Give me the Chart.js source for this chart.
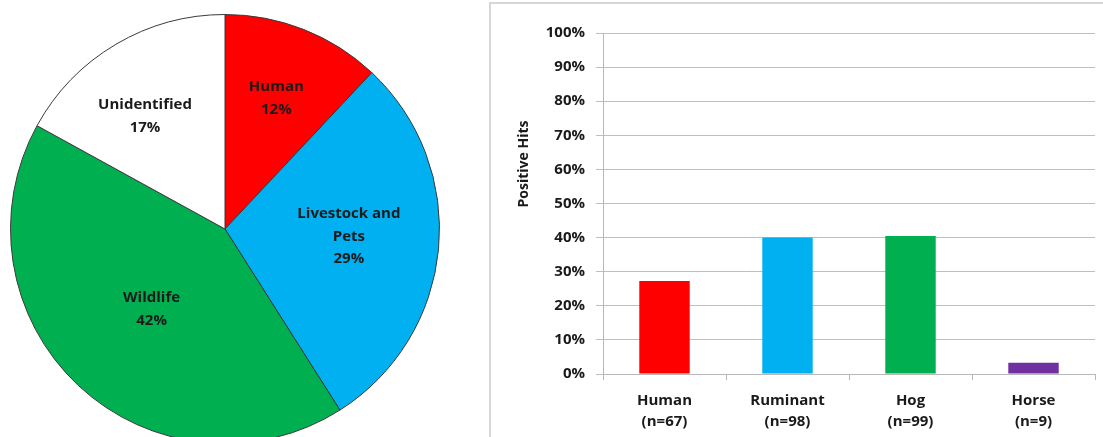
<!DOCTYPE html>
<html>
<head>
<meta charset="utf-8">
<title>Sources and positive hits</title>
<script src="https://cdn.jsdelivr.net/npm/chart.js@4/dist/chart.umd.min.js"></script>
<style>
  html, body { margin: 0; padding: 0; background: #ffffff; overflow: hidden; }
  body { width: 1103px; height: 437px; position: relative; }
  #pieWrap { position: absolute; left: 0; top: 0; width: 450px; height: 458px; }
  #barBox { position: absolute; left: 489px; top: 2px; width: 700px; height: 500px;
            border: 2px solid #d6d6d6; box-sizing: border-box; }
  #barWrap { position: absolute; left: 490px; top: 0; width: 613px; height: 437px; }
</style>
</head>
<body>
<div id="pieWrap"><canvas id="pie"></canvas></div>
<div id="barBox"></div>
<div id="barWrap"><canvas id="bar"></canvas></div>
<script>
// Share of sources (percent)
const sourceNames = ['Human', ['Livestock and', 'Pets'], 'Wildlife', 'Unidentified'];
const sourceShares = [12, 29, 42, 17];
const sourceColors = ['#ff0000', '#00b0f0', '#00b050', '#ffffff'];

// Positive hits by host (percent)
const hostNames = [['Human', '(n=67)'], ['Ruminant', '(n=98)'], ['Hog', '(n=99)'], ['Horse', '(n=9)']];
const hostHits = [27.3, 40.0, 40.5, 3.3];
const hostColors = ['#ff0000', '#00b0f0', '#00b050', '#7030a0'];

// Axis ticks
const tickMin = 0;
const tickMax = 100;
const tickStep = 10;

const FONT = '"Open Sans", "Liberation Sans", sans-serif';
const INK = '#1a1a1a';

// Labels inside pie slices, placed along each slice's middle angle
const sliceLabels = {
  id: 'sliceLabels',
  afterDatasetsDraw(chart, args, opts) {
    const ctx = chart.ctx;
    const meta = chart.getDatasetMeta(0);
    const values = chart.data.datasets[0].data;
    ctx.save();
    ctx.font = 'bold ' + opts.size + 'px ' + FONT;
    ctx.fillStyle = INK;
    ctx.textAlign = 'center';
    ctx.textBaseline = 'middle';
    meta.data.forEach((arc, i) => {
      const p = arc.getProps(['x', 'y', 'startAngle', 'endAngle', 'outerRadius'], true);
      const mid = (p.startAngle + p.endAngle) / 2;
      const r = p.outerRadius * opts.radial[i];
      const nudge = opts.nudge[i];
      const cx = p.x + Math.cos(mid) * r + nudge[0];
      const cy = p.y + Math.sin(mid) * r + nudge[1];
      const name = chart.data.labels[i];
      const lines = (Array.isArray(name) ? name.slice() : [name]);
      lines.push(values[i] + '%');
      const h = opts.lineHeight;
      const y0 = cy - (lines.length - 1) * h / 2;
      lines.forEach((t, k) => ctx.fillText(t, cx, y0 + k * h));
    });
    ctx.restore();
  }
};

new Chart(document.getElementById('pie'), {
  type: 'pie',
  data: {
    labels: sourceNames,
    datasets: [{
      data: sourceShares,
      backgroundColor: sourceColors,
      borderColor: '#3a3a3a',
      borderWidth: 1,
      hoverOffset: 0,
      offset: 0
    }]
  },
  options: {
    responsive: true,
    maintainAspectRatio: false,
    animation: false,
    events: [],
    layout: { padding: { left: 10, right: 10, top: 14, bottom: 14 } },
    plugins: {
      legend: { display: false },
      tooltip: { enabled: false },
      sliceLabels: {
        size: 15,
        lineHeight: 22.5,
        radial: [0.65, 0.58, 0.5, 0.65],
        nudge: [[0, -1], [0, -4], [0, 2], [-9, 7]]
      }
    }
  },
  plugins: [sliceLabels]
});

// Rotated axis caption beside the value ticks
const sideCaption = {
  id: 'sideCaption',
  afterDraw(chart, args, opts) {
    const ctx = chart.ctx;
    ctx.save();
    ctx.font = 'bold ' + opts.size + 'px ' + FONT;
    ctx.fillStyle = INK;
    ctx.textAlign = 'center';
    ctx.textBaseline = 'middle';
    ctx.translate(opts.x, opts.y);
    ctx.rotate(-Math.PI / 2);
    ctx.fillText(opts.text, 0, 0);
    ctx.restore();
  }
};

new Chart(document.getElementById('bar'), {
  type: 'bar',
  data: {
    labels: hostNames,
    datasets: [{
      data: hostHits,
      backgroundColor: hostColors,
      borderWidth: 0,
      barPercentage: 0.41,
      categoryPercentage: 1.0
    }]
  },
  options: {
    responsive: true,
    maintainAspectRatio: false,
    animation: false,
    events: [],
    layout: { padding: { left: 0, right: 8, top: 33, bottom: 0 } },
    plugins: {
      legend: { display: false },
      tooltip: { enabled: false },
      sideCaption: { text: 'Positive Hits', x: 34, y: 164, size: 14 }
    },
    scales: {
      x: {
        offset: true,
        afterFit: (s) => { s.height = 63; },
        border: { color: '#b8b8b8', width: 1 },
        grid: { offset: true, drawOnChartArea: false, drawTicks: true, tickLength: 6, color: '#b8b8b8' },
        ticks: { color: INK, padding: 11, font: { family: FONT, size: 15, weight: 'bold', lineHeight: 1.35 } }
      },
      y: {
        min: tickMin,
        max: tickMax,
        afterFit: (s) => { s.width = 113; },
        border: { color: '#b8b8b8', width: 1 },
        grid: { color: '#bfbfbf', lineWidth: 1, tickLength: 7 },
        ticks: {
          stepSize: tickStep,
          padding: 11,
          color: INK,
          font: { family: FONT, size: 15, weight: 'bold' },
          callback: (v) => v + '%'
        }
      }
    }
  },
  plugins: [sideCaption]
});
</script>
</body>
</html>
